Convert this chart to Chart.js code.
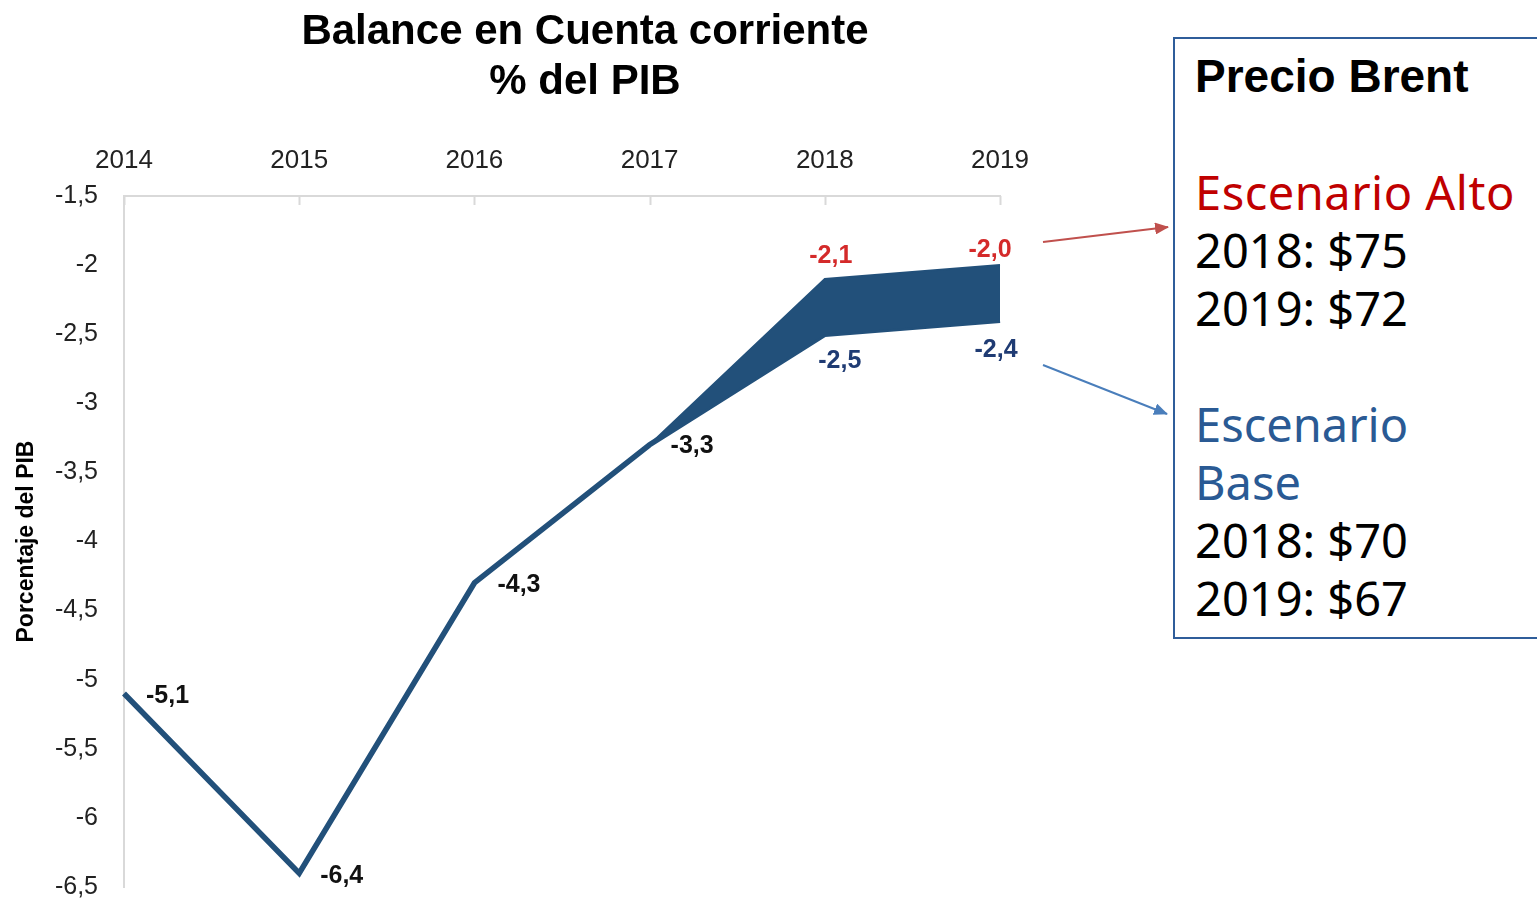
<!DOCTYPE html>
<html lang="es">
<head>
<meta charset="utf-8">
<title>Balance en Cuenta corriente</title>
<script src="https://cdn.jsdelivr.net/npm/chart.js@4.4.1/dist/chart.umd.min.js"></script>
<style>
  html, body { margin: 0; padding: 0; background: #fff; }
  body { width: 1537px; height: 899px; position: relative; overflow: hidden; font-family: "Liberation Sans", Arial, sans-serif; }
  #chart { position: absolute; left: 0; top: 0; }
  #title { position: absolute; left: 235px; width: 700px; top: 5px; text-align: center; font-weight: bold; font-size: 42px; line-height: 50px; color: #000; }
  #box { position: absolute; left: 1173px; top: 37px; width: 420px; height: 602px; border: 2px solid #2f5d9a; box-sizing: border-box; padding: 8px 0 0 20px; font-family: "Noto Sans", sans-serif; font-size: 47px; color: #000; }
  #box div { height: 58px; line-height: 58px; white-space: nowrap; }
  #box .head { font-family: "Liberation Sans", Arial, sans-serif; font-weight: bold; font-size: 46px; }
  #box .alto { color: #c00000; letter-spacing: 0.5px; }
  #box .base { color: #2a5a94; }
  #arrows { position: absolute; left: 0; top: 0; pointer-events: none; }
</style>
</head>
<body>
<canvas id="chart" width="1170" height="899"></canvas>
<div id="title">Balance en Cuenta corriente<br>% del PIB</div>
<div id="box">
  <div class="head">Precio Brent</div>
  <div></div>
  <div class="alto">Escenario Alto</div>
  <div>2018: $75</div>
  <div>2019: $72</div>
  <div></div>
  <div class="base">Escenario</div>
  <div class="base">Base</div>
  <div>2018: $70</div>
  <div>2019: $67</div>
</div>
<svg id="arrows" width="1537" height="899">
  <defs>
    <marker id="headRed" markerWidth="14" markerHeight="12" refX="13" refY="6" orient="auto" markerUnits="userSpaceOnUse">
      <path d="M0,0 L14,6 L0,12 z" fill="#c0504d"/>
    </marker>
    <marker id="headBlue" markerWidth="14" markerHeight="12" refX="13" refY="6" orient="auto" markerUnits="userSpaceOnUse">
      <path d="M0,0 L14,6 L0,12 z" fill="#4a7ebb"/>
    </marker>
  </defs>
  <line x1="1043" y1="242" x2="1168" y2="227" stroke="#c0504d" stroke-width="2" marker-end="url(#headRed)"/>
  <line x1="1043" y1="365" x2="1167" y2="414" stroke="#4a7ebb" stroke-width="2" marker-end="url(#headBlue)"/>
</svg>
<script>
const years = ["2014", "2015", "2016", "2017", "2018", "2019"];
const baseScenario = [-5.1, -6.4, -4.3, -3.3, -2.5, -2.4];
const highScenario = [null, null, null, -3.3, -2.1, -2.0];
const yMin = -6.5, yMax = -1.5, yStep = 0.5;

const navy = "#22507a";
const fmt = v => String(v).replace(".", ",");
const fmtLabel = v => v.toFixed(1).replace(".", ",");

// where each value label goes, relative to its point
const labelStyle = {
  0: { show: [false, false, false, false, true, true], color: "#d42a2a", dx: [0, 0, 0, 0, 6, -10], dy: [0, 0, 0, 0, -23, -15], align: "center" },
  1: { show: [true, true, true, true, true, true],
       color: ["#111", "#111", "#111", "#111", "#1f3b73", "#1f3b73"],
       dx: [22, 21, 23, 21, 15, -4], dy: [3, 3, 2, 1, 27, 30],
       align: ["left", "left", "left", "left", "center", "center"] }
};

const valueLabels = {
  id: "valueLabels",
  afterDatasetsDraw(chart) {
    const ctx = chart.ctx;
    ctx.save();
    ctx.font = "bold 25px 'Liberation Sans', Arial, sans-serif";
    ctx.textBaseline = "middle";
    chart.data.datasets.forEach((ds, di) => {
      const st = labelStyle[di];
      const meta = chart.getDatasetMeta(di);
      meta.data.forEach((pt, i) => {
        const v = ds.data[i];
        if (v == null || !st.show[i]) return;
        ctx.fillStyle = Array.isArray(st.color) ? st.color[i] : st.color;
        ctx.textAlign = Array.isArray(st.align) ? st.align[i] : st.align;
        ctx.fillText(fmtLabel(v), pt.x + st.dx[i], pt.y + st.dy[i]);
      });
    });
    ctx.restore();
  }
};

// short tick marks pointing down into the plot from the top axis
const innerTicks = {
  id: "innerTicks",
  afterDatasetsDraw(chart) {
    const ctx = chart.ctx, x = chart.scales.x, top = chart.chartArea.top;
    ctx.save();
    ctx.strokeStyle = "#d9d9d9";
    ctx.lineWidth = 2;
    x.ticks.forEach((t, i) => {
      const px = Math.round(x.getPixelForTick(i)) + 0.5;
      ctx.beginPath();
      ctx.moveTo(px, top);
      ctx.lineTo(px, top + 9);
      ctx.stroke();
    });
    ctx.restore();
  }
};

window.addEventListener("load", function () {
  const ctx = document.getElementById("chart");
  const chart = new Chart(ctx, {
    type: "line",
    data: {
      labels: years,
      datasets: [
        {
          label: "Escenario Alto",
          data: highScenario,
          borderColor: navy,
          borderWidth: 2,
          backgroundColor: navy,
          fill: "+1",
          pointRadius: 0,
          tension: 0
        },
        {
          label: "Escenario Base",
          data: baseScenario,
          borderColor: navy,
          borderWidth: 5.5,
          borderJoinStyle: "miter",
          backgroundColor: navy,
          fill: false,
          pointRadius: 0,
          tension: 0
        }
      ]
    },
    options: {
      responsive: false,
      animation: false,
      devicePixelRatio: 1,
      layout: { padding: { left: 0, top: 0, right: 170, bottom: 12 } },
      plugins: {
        legend: { display: false },
        tooltip: { enabled: false }
      },
      scales: {
        x: {
          position: "top",
          offset: false,
          grid: { display: false, drawTicks: false },
          border: { display: true, color: "#d9d9d9", width: 2 },
          ticks: { color: "#222", padding: 20, font: { size: 26, family: "'Liberation Sans', Arial, sans-serif" }, maxRotation: 0 },
          afterFit(scale) { scale.height = 196; }
        },
        y: {
          min: yMin,
          max: yMax,
          grid: { display: false, drawTicks: false },
          border: { display: true, color: "#d9d9d9", width: 2 },
          ticks: { stepSize: yStep, color: "#222", padding: 26, callback: v => fmt(v), font: { size: 25, family: "'Liberation Sans', Arial, sans-serif" } },
          title: { display: true, text: "Porcentaje del PIB", color: "#000", padding: { top: 13, bottom: 0 }, font: { size: 23, weight: "bold", family: "'Liberation Sans', Arial, sans-serif" } },
          afterFit(scale) {
            scale.width = 124;
            scale.paddingTop = 0;
            scale.paddingBottom = 0;
          }
        }
      }
    },
    plugins: [valueLabels, innerTicks]
  });
});
</script>
</body>
</html>
